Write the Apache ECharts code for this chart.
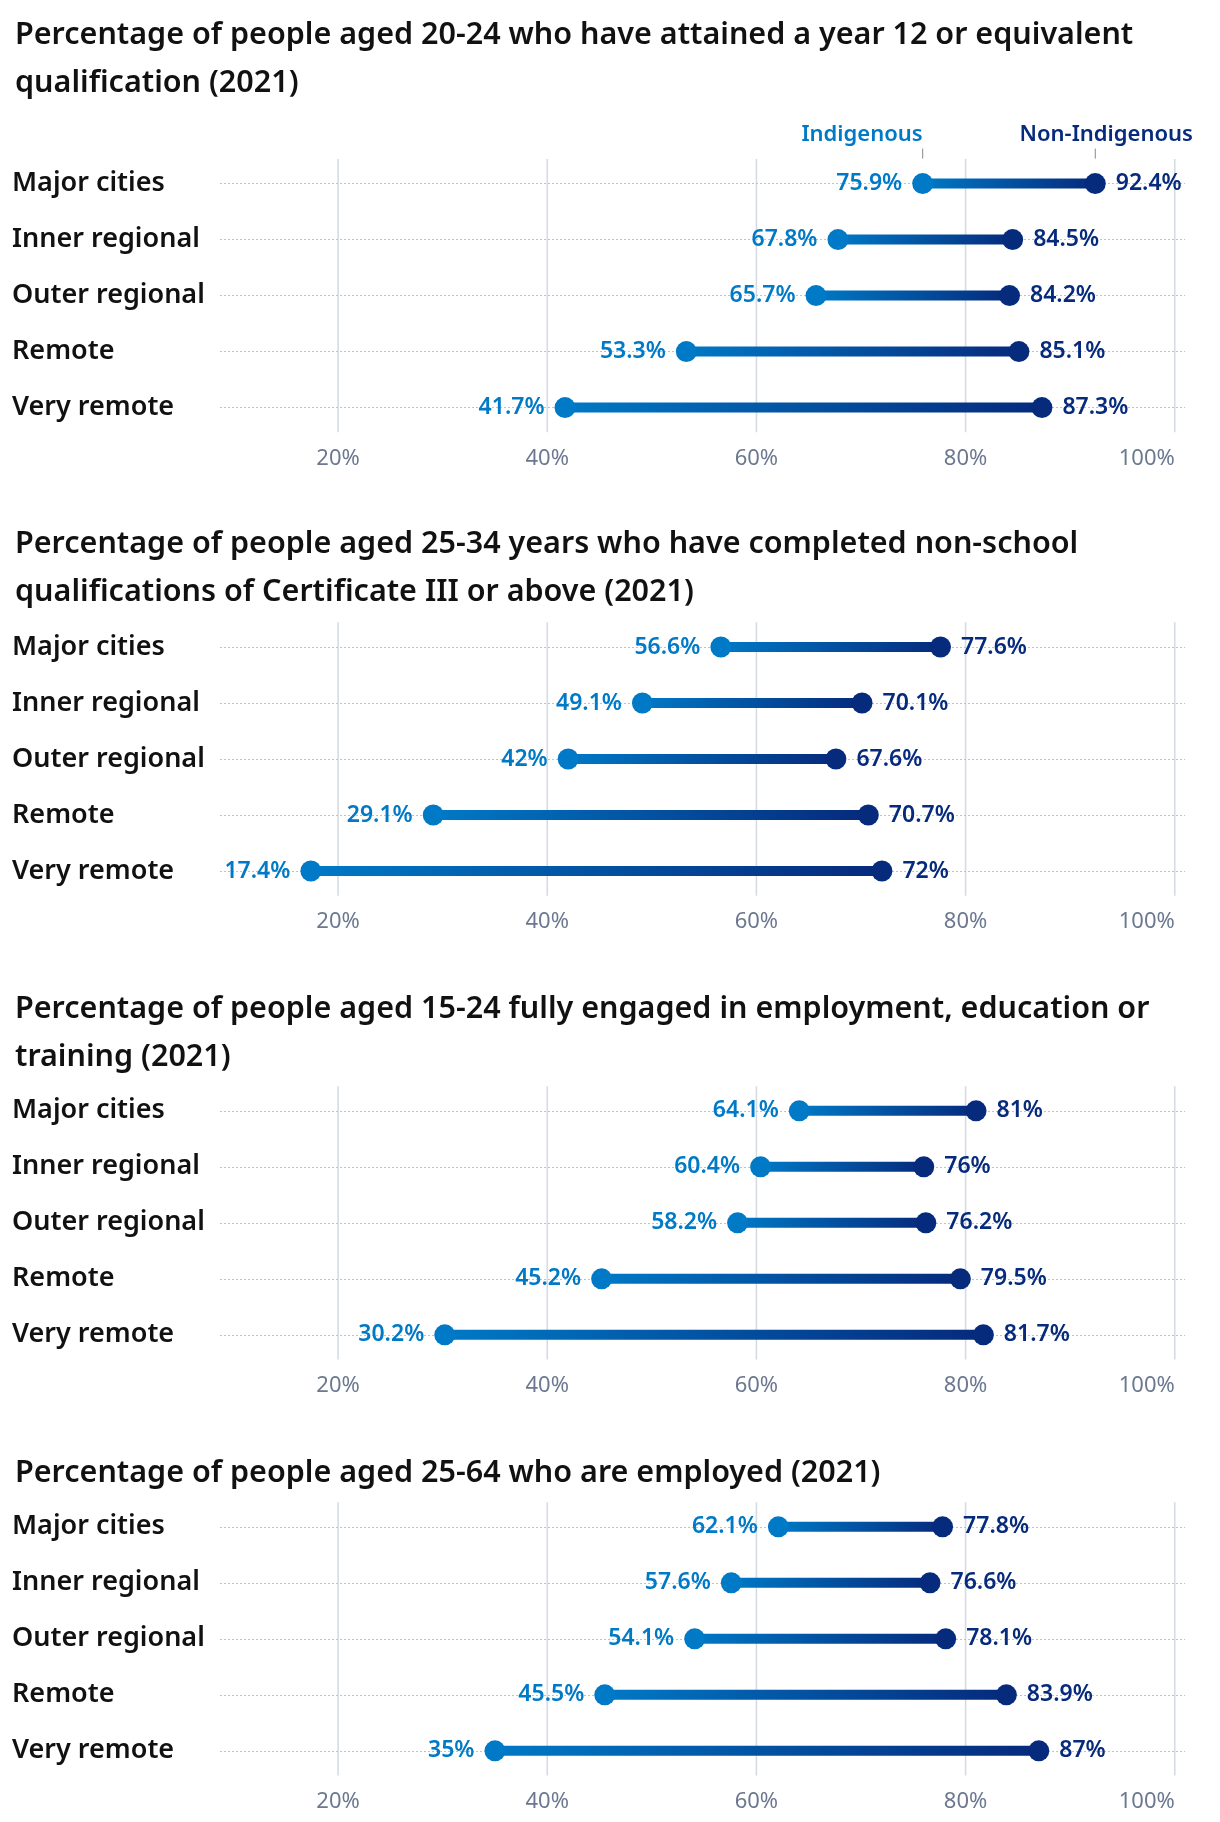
<!DOCTYPE html>
<html>
<head>
<meta charset="utf-8">
<script src="https://cdn.jsdelivr.net/npm/echarts@6/dist/echarts.min.js"></script>
<style>
  html, body { margin: 0; padding: 0; background: #ffffff; }
  #chart { width: 1220px; height: 1822px; }
</style>
</head>
<body>
<div id="chart"></div>
<script>
// ---------- DATA ----------
const CATEGORIES = ['Major cities', 'Inner regional', 'Outer regional', 'Remote', 'Very remote'];
const TITLES = [
  'Percentage of people aged 20-24 who have attained a year 12 or equivalent\nqualification (2021)',
  'Percentage of people aged 25-34 years who have completed non-school\nqualifications of Certificate III or above (2021)',
  'Percentage of people aged 15-24 fully engaged in employment, education or\ntraining (2021)',
  'Percentage of people aged 25-64 who are employed (2021)'
];
const INDIGENOUS_1 = [75.9, 67.8, 65.7, 53.3, 41.7];
const NON_INDIGENOUS_1 = [92.4, 84.5, 84.2, 85.1, 87.3];
const INDIGENOUS_2 = [56.6, 49.1, 42, 29.1, 17.4];
const NON_INDIGENOUS_2 = [77.6, 70.1, 67.6, 70.7, 72];
const INDIGENOUS_3 = [64.1, 60.4, 58.2, 45.2, 30.2];
const NON_INDIGENOUS_3 = [81, 76, 76.2, 79.5, 81.7];
const INDIGENOUS_4 = [62.1, 57.6, 54.1, 45.5, 35];
const NON_INDIGENOUS_4 = [77.8, 76.6, 78.1, 83.9, 87];
const TICK_VALUES = [20, 40, 60, 80, 100];
const SERIES_NAMES = ['Indigenous', 'Non-Indigenous'];

// ---------- STYLE / LAYOUT ----------
const FONT = '"Noto Sans", sans-serif';
const C_LIGHT = '#0079c6';
const C_DARK = '#062a7c';
const ROW_STEP = 56;
const FIRST_ROW_Y = [183.6, 647, 1110.8, 1526.8];
const TITLE_TOP = [6, 515, 980, 1444];
const GRID_LEFT = 220, GRID_RIGHT = 35;
const X_MIN = 8.71, X_MAX = 100.98;

const PANELS = [
  [INDIGENOUS_1, NON_INDIGENOUS_1],
  [INDIGENOUS_2, NON_INDIGENOUS_2],
  [INDIGENOUS_3, NON_INDIGENOUS_3],
  [INDIGENOUS_4, NON_INDIGENOUS_4]
];

const chart = echarts.init(document.getElementById('chart'), null, { renderer: 'canvas' });

const title = [], grid = [], xAxis = [], yAxis = [], series = [];

PANELS.forEach(([ind, non], p) => {
  title.push({
    text: TITLES[p], left: 10, top: TITLE_TOP[p],
    textStyle: { fontFamily: FONT, fontSize: 30.5, fontWeight: 600, color: '#111111', lineHeight: 48 }
  });
  grid.push({
    left: GRID_LEFT, right: GRID_RIGHT,
    top: FIRST_ROW_Y[p] - ROW_STEP / 2, height: ROW_STEP * 5
  });
  xAxis.push({
    type: 'value', gridIndex: p, min: X_MIN, max: X_MAX,
    axisLine: { show: false }, axisTick: { show: false }, splitLine: { show: false },
    axisLabel: {
      customValues: TICK_VALUES, formatter: v => v + '%', margin: 12,
      alignMaxLabel: 'right',
      fontFamily: FONT, fontSize: 22, color: '#6b7890'
    }
  });
  yAxis.push({
    type: 'category', gridIndex: p, data: CATEGORIES, inverse: true,
    axisLine: { show: false }, axisTick: { show: false }, splitLine: { show: false },
    axisLabel: {
      align: 'left', margin: GRID_LEFT - 12,
      fontFamily: FONT, fontSize: 27, fontWeight: 600, color: '#111111'
    }
  });

  // vertical gridlines
  series.push({
    type: 'custom', xAxisIndex: p, yAxisIndex: p, silent: true, z: 1,
    data: TICK_VALUES.map(v => [v, 0]),
    encode: { x: 0, y: 1 },
    renderItem: (params, api) => {
      const v = api.value(0);
      const t = api.coord([v, 0]);
      const b = api.coord([v, CATEGORIES.length - 1]);
      const step = (b[1] - t[1]) / (CATEGORIES.length - 1);
      return {
        type: 'line',
        shape: { x1: t[0], y1: t[1] - 0.44 * step, x2: t[0], y2: b[1] + 0.44 * step },
        style: { stroke: '#d6dbe3', lineWidth: 1.6 }
      };
    }
  });

  // dumbbell connectors
  series.push({
    type: 'custom', xAxisIndex: p, yAxisIndex: p, silent: true, z: 3,
    data: ind.map((v, i) => [v, non[i], i]),
    encode: { x: [0, 1], y: 2 },
    renderItem: (params, api) => {
      const a = api.coord([api.value(0), api.value(2)]);
      const b = api.coord([api.value(1), api.value(2)]);
      return {
        type: 'rect',
        shape: { x: a[0], y: a[1] - 5, width: b[0] - a[0], height: 10 },
        style: {
          fill: new echarts.graphic.LinearGradient(0, 0, 1, 0, [
            { offset: 0, color: C_LIGHT }, { offset: 1, color: C_DARK }
          ])
        }
      };
    }
  });

  // Indigenous dots
  series.push({
    name: SERIES_NAMES[0], type: 'scatter', xAxisIndex: p, yAxisIndex: p, z: 5,
    data: ind.map((v, i) => [v, i]),
    symbolSize: 21, itemStyle: { color: C_LIGHT, opacity: 1 },
    label: {
      show: true, position: 'left', distance: 10, formatter: d => d.value[0] + '%',
      fontFamily: FONT, fontSize: 23, fontWeight: 600, color: C_LIGHT
    },
    markLine: {
      silent: true, symbol: 'none', z: 2,
      label: { show: false },
      lineStyle: { color: '#bcc3ce', type: [2, 2], width: 1 },
      data: CATEGORIES.map(c => ({ yAxis: c }))
    }
  });

  // Non-Indigenous dots
  series.push({
    name: SERIES_NAMES[1], type: 'scatter', xAxisIndex: p, yAxisIndex: p, z: 5,
    data: non.map((v, i) => [v, i]),
    symbolSize: 21, itemStyle: { color: C_DARK, opacity: 1 },
    label: {
      show: true, position: 'right', distance: 10, formatter: d => d.value[0] + '%',
      fontFamily: FONT, fontSize: 23, fontWeight: 600, color: C_DARK
    }
  });
});

// legend labels, anchored at the first row of the first panel
series.push({
  type: 'custom', xAxisIndex: 0, yAxisIndex: 0, silent: true, z: 6,
  data: [[INDIGENOUS_1[0], 0, 0], [NON_INDIGENOUS_1[0], 0, 1]],
  encode: { x: 0, y: 1 },
  renderItem: (params, api) => {
    const k = api.value(2);
    const pt = api.coord([api.value(0), api.value(1)]);
    return {
      type: 'group',
      children: [
        {
          type: 'line',
          shape: { x1: pt[0], y1: pt[1] - 35, x2: pt[0], y2: pt[1] - 25 },
          style: { stroke: '#888888', lineWidth: 1 }
        },
        {
          type: 'text',
          x: k === 0 ? pt[0] : pt[0] + 11, y: pt[1] - 49,
          style: {
            text: SERIES_NAMES[k], textAlign: k === 0 ? 'right' : 'center', textVerticalAlign: 'middle',
            font: '600 22px ' + FONT, fill: k === 0 ? C_LIGHT : C_DARK
          }
        }
      ]
    };
  }
});

chart.setOption({
  backgroundColor: '#ffffff',
  animation: false,
  title, grid, xAxis, yAxis, series
});
</script>
</body>
</html>
